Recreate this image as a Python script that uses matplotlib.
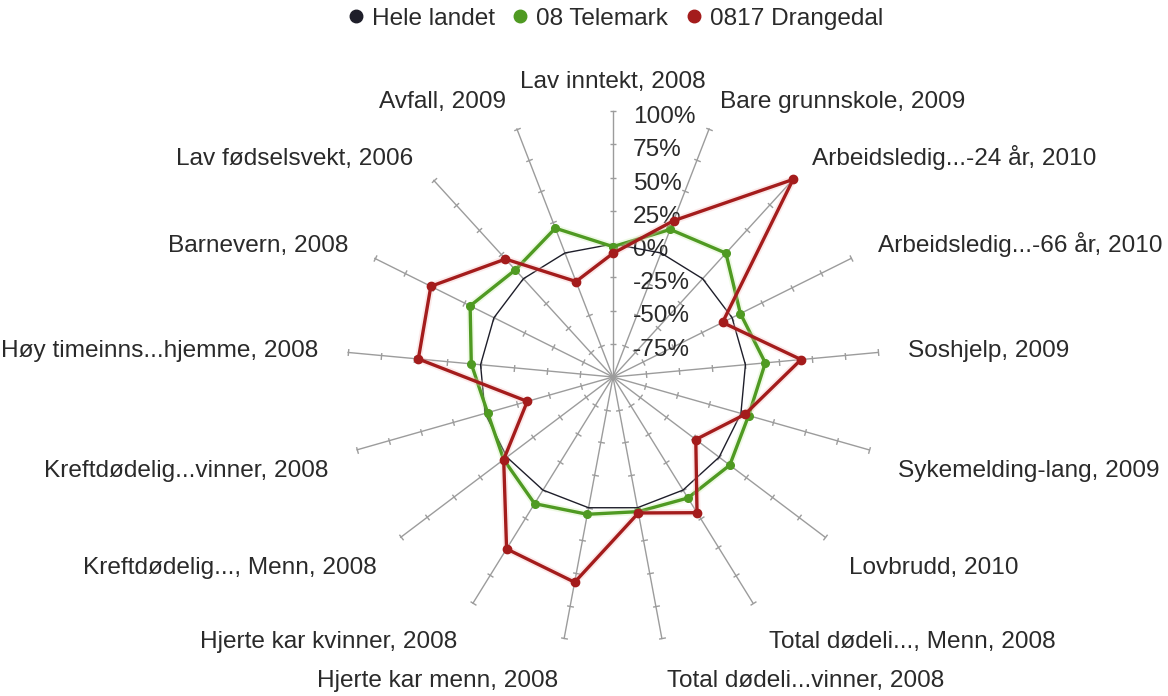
import numpy as np
import matplotlib
matplotlib.use("Agg")
import matplotlib.pyplot as plt
from matplotlib.lines import Line2D
import matplotlib.patheffects as pe

plt.rcParams['font.family'] = ['Liberation Sans', 'DejaVu Sans']

categories = [
    "Lav inntekt, 2008", "Bare grunnskole, 2009", "Arbeidsledig...-24 år, 2010",
    "Arbeidsledig...-66 år, 2010", "Soshjelp, 2009", "Sykemelding-lang, 2009",
    "Lovbrudd, 2010", "Total dødeli..., Menn, 2008", "Total dødeli...vinner, 2008",
    "Hjerte kar menn, 2008", "Hjerte kar kvinner, 2008", "Kreftdødelig..., Menn, 2008",
    "Kreftdødelig...vinner, 2008", "Høy timeinns...hjemme, 2008", "Barnevern, 2008",
    "Lav fødselsvekt, 2006", "Avfall, 2009",
]
hele_landet = [0, 0, 0, 0, 0, 0, 0, 0, 0, 0, 0, 0, 0, 0, 0, 0, 0]
telemark = [-2, 19, 26, 7, 15, 6, 10, 7, 3, 5, 12, 3, -2, 7, 20, 9, 20]
drangedal = [-7, 26, 101, -8, 42, 3, -22, 20, 4, 57, 52, 3, -33, 47, 53, 20, -23]
radial_levels = [-75, -50, -25, 0, 25, 50, 75, 100]
radial_labels = ["-75%", "-50%", "-25%", "0%", "25%", "50%", "75%", "100%"]
series_names = ["Hele landet", "08 Telemark", "0817 Drangedal"]

W, H = 1168, 696
fig = plt.figure(figsize=(W / 100, H / 100), dpi=100)
cx, cy, R = 613, 377, 266
ax = fig.add_axes([(cx - R) / W, (H - cy - R) / H, 2 * R / W, 2 * R / H], projection='polar')
ax.set_theta_zero_location('N')
ax.set_theta_direction(-1)
ax.set_ylim(-100, 100)
ax.grid(False)
ax.set_xticks([])
ax.set_yticks([])
ax.spines['polar'].set_visible(False)
ax.patch.set_visible(False)

n = len(categories)
theta = np.arange(n) * 2 * np.pi / n
spoke_col = '#9c9c9c'
txt_col = '#2a2a2a'
fs = 17.6
px = 0.72  # points per pixel

for i, t in enumerate(theta):
    ax.plot([t, t], [-100, 100], color=spoke_col, lw=1.0, zorder=1, clip_on=False)
    rot = 90 - np.degrees(t)
    ax.plot([t] * len(radial_levels), radial_levels, ls='none',
            marker=(2, 0, rot), ms=5, mec=spoke_col, mew=1.0, zorder=1, clip_on=False)
    s, c = np.sin(t), np.cos(t)
    if s > 0.05:
        ha = 'left'
    elif s < -0.05:
        ha = 'right'
    else:
        ha = 'center'
    dist = 30
    dy_extra = 7 if c > 0 else 19
    ax.annotate(categories[i], xy=(t, 100), xytext=(dist * s * px, (dist * c - dy_extra) * px),
                textcoords='offset points', ha=ha, va='baseline', fontsize=fs,
                color=txt_col, annotation_clip=False, zorder=2)

for lv, lb in zip(radial_levels, radial_labels):
    ax.annotate(lb, xy=(0, lv), xytext=(20 * px, -12 * px), textcoords='offset points',
                ha='left', va='baseline', fontsize=fs, color=txt_col,
                annotation_clip=False, zorder=2)

def closed(v):
    return list(theta) + [theta[0]], list(v) + [v[0]]

black = '#1e1e2a'
green = '#4f9a22'
red = '#a41c1c'

t_, v_ = closed(hele_landet)
ax.plot(t_, v_, color=black, lw=1.0, zorder=3, clip_on=False)
t_, v_ = closed(telemark)
ax.plot(t_, v_, color=green, lw=2.4, zorder=4, clip_on=False,
        path_effects=[pe.Stroke(linewidth=5, foreground='#c8eea8', alpha=0.3), pe.Normal()])
ax.plot(theta, telemark, ls='none', color=green, marker='o', ms=5.5, zorder=4, clip_on=False)
t_, v_ = closed(drangedal)
ax.plot(t_, v_, color=red, lw=2.4, zorder=5, clip_on=False,
        path_effects=[pe.Stroke(linewidth=5, foreground='#f5b8b8', alpha=0.3), pe.Normal()])
ax.plot(theta, drangedal, ls='none', color=red, marker='o', ms=6, zorder=5, clip_on=False)

handles = [Line2D([], [], ls='none', marker='o', ms=9, color=c) for c in (black, green, red)]
fig.legend(handles, series_names, loc='center', bbox_to_anchor=(615 / W, 1 - 19 / H),
           ncol=3, frameon=False, fontsize=fs, handlelength=0.7, handletextpad=0.3,
           columnspacing=0.7, labelcolor=txt_col, borderaxespad=0, borderpad=0)

fig.savefig('out.png', dpi=100, facecolor='white')
